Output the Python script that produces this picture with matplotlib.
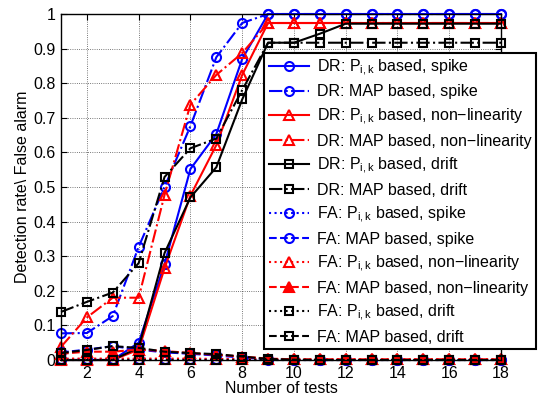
import numpy as np
import matplotlib
matplotlib.use('Agg')
import matplotlib.pyplot as plt

plt.rcParams['font.family'] = ['Liberation Sans', 'DejaVu Sans']
plt.rcParams['mathtext.fontset'] = 'custom'
plt.rcParams['mathtext.rm'] = 'Liberation Sans'
plt.rcParams['mathtext.it'] = 'Liberation Sans'
plt.rcParams['font.size'] = 11.5

tests = np.arange(1, 19)

# detection rate
dr_p_spike = [0, 0, 0, 0.05, 0.277, 0.552, 0.653, 0.87, 1, 1, 1, 1, 1, 1, 1, 1, 1, 1]
dr_map_spike = [0.077, 0.078, 0.127, 0.327, 0.50, 0.676, 0.875, 0.974, 1, 1, 1, 1, 1, 1, 1, 1, 1, 1]
dr_p_nonlin = [0, 0, 0, 0.03, 0.265, 0.475, 0.621, 0.824, 0.974, 0.974, 0.974, 0.974,
               0.974, 0.974, 0.974, 0.974, 0.974, 0.974]
dr_map_nonlin = [0.038, 0.123, 0.18, 0.18, 0.477, 0.738, 0.824, 0.887, 0.974, 0.974, 0.974,
                 0.974, 0.974, 0.974, 0.974, 0.974, 0.974, 0.974]
dr_p_drift = [0, 0, 0, 0.036, 0.309, 0.47, 0.557, 0.753, 0.917, 0.917, 0.943, 0.972,
              0.972, 0.972, 0.972, 0.972, 0.972, 0.972]
dr_map_drift = [0.139, 0.168, 0.195, 0.28, 0.529, 0.612, 0.64, 0.78, 0.917, 0.917, 0.917,
                0.917, 0.917, 0.917, 0.917, 0.917, 0.917, 0.917]

# false alarm
fa_p_spike = [0.002, 0.002, 0.002, 0.002, 0.002, 0.002, 0.002, 0.002, 0, 0, 0, 0, 0, 0, 0, 0, 0, 0]
fa_map_spike = [0.022, 0.03, 0.04, 0.03, 0.022, 0.018, 0.013, 0.007, 0.002, 0, 0, 0, 0, 0, 0, 0, 0, 0]
fa_p_nonlin = [0.004, 0.004, 0.004, 0.004, 0.004, 0.004, 0.003, 0.003, 0.002, 0.002, 0.002,
               0.002, 0.002, 0.002, 0.002, 0.002, 0.002, 0.002]
fa_map_nonlin = [0.018, 0.024, 0.024, 0.03, 0.026, 0.02, 0.015, 0.01, 0.004, 0.002, 0.002,
                 0.002, 0.002, 0.002, 0.002, 0.002, 0.002, 0.002]
fa_p_drift = [0, 0, 0, 0, 0, 0, 0, 0, 0, 0, 0, 0, 0, 0, 0, 0, 0, 0]
fa_map_drift = [0.02, 0.029, 0.04, 0.035, 0.024, 0.02, 0.017, 0.01, 0.003, 0.001, 0, 0, 0, 0, 0, 0, 0, 0]

P = r'$\mathregular{P_{i,k}}$'
series = [
    (dr_p_spike, 'b', '-', 'o', 'none', 'DR: ' + P + ' based, spike'),
    (dr_map_spike, 'b', '-.', 'o', 'none', 'DR: MAP based, spike'),
    (dr_p_nonlin, 'r', '-', '^', 'none', 'DR: ' + P + ' based, non\u2212linearity'),
    (dr_map_nonlin, 'r', '-.', '^', 'none', 'DR: MAP based, non\u2212linearity'),
    (dr_p_drift, 'k', '-', 's', 'none', 'DR: ' + P + ' based, drift'),
    (dr_map_drift, 'k', '-.', 's', 'none', 'DR: MAP based, drift'),
    (fa_p_spike, 'b', ':', 'o', 'none', 'FA: ' + P + ' based, spike'),
    (fa_map_spike, 'b', '--', 'o', 'none', 'FA: MAP based, spike'),
    (fa_p_nonlin, 'r', ':', '^', 'none', 'FA: ' + P + ' based, non\u2212linearity'),
    (fa_map_nonlin, 'r', '--', '^', 'r', 'FA: MAP based, non\u2212linearity'),
    (fa_p_drift, 'k', ':', 's', 'none', 'FA: ' + P + ' based, drift'),
    (fa_map_drift, 'k', '--', 's', 'none', 'FA: MAP based, drift'),
]

fig = plt.figure(figsize=(5.39, 3.98), dpi=100)
ax = fig.add_axes([0.1132, 0.0955, 0.8163, 0.8693])

for vals, c, ls, m, mfc, lab in series:
    ms = 5.5 if m == 's' else 6.5
    ax.plot(tests, vals, color=c, linestyle=ls, marker=m, mfc=mfc, mec=c,
            markersize=ms, lw=1.5, mew=1.5, label=lab, clip_on=False)

ax.set_xlim(1, 18)
ax.set_ylim(0, 1)
ax.set_xticks(np.arange(2, 19, 2))
ax.set_yticks(np.arange(0, 1.01, 0.1))
ax.set_yticklabels(['0', '0.1', '0.2', '0.3', '0.4', '0.5', '0.6', '0.7', '0.8', '0.9', '1'])
ax.tick_params(direction='in', length=4, top=True, right=True, pad=4)
ax.grid(True, color='k', linestyle=':', linewidth=0.6, alpha=0.7)
for s in ax.spines.values():
    s.set_linewidth(1.0)

ax.set_xlabel('Number of tests', labelpad=0)
ax.set_ylabel('Detection rate\\ False alarm', labelpad=2)

leg = ax.legend(loc='upper left', bbox_to_anchor=(0.49, 0.868),
                bbox_transform=fig.transFigure, fancybox=False, framealpha=1,
                edgecolor='k', handlelength=2.5, labelspacing=0.43,
                borderpad=0.3, handletextpad=0.5, borderaxespad=0)
leg.get_frame().set_linewidth(1.5)

fig.savefig('out.png', dpi=100)
